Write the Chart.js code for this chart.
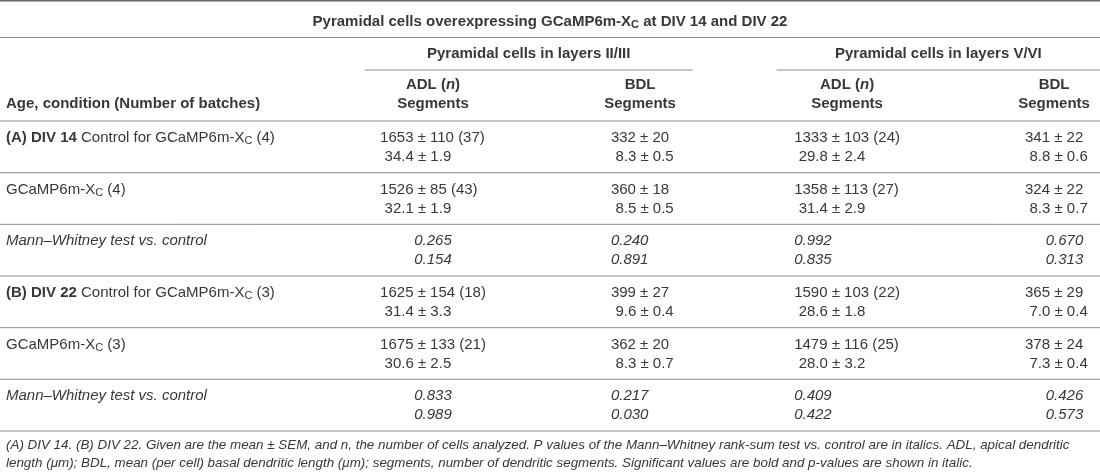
<!DOCTYPE html>
<html>
<head>
<meta charset="utf-8">
<title>Pyramidal cells overexpressing GCaMP6m-XC</title>
<script src="https://cdn.jsdelivr.net/npm/chart.js@4.4.1/dist/chart.umd.min.js"></script>
<style>
  html, body { margin: 0; padding: 0; background: #fff; }
  canvas { display: block; }
</style>
</head>
<body>
<canvas id="table" width="1100" height="474"></canvas>
<script>
// markup: **bold**, *italic*, _X = subscript letter
var title = '**Pyramidal cells overexpressing GCaMP6m-X_C at DIV 14 and DIV 22**';
var groupHeads = ['Pyramidal cells in layers II/III', 'Pyramidal cells in layers V/VI'];
var colHeads = ['ADL (*n*)', 'BDL', 'ADL (*n*)', 'BDL'];
var rowHead = 'Age, condition (Number of batches)';

var rowLabels = [
    '**(A) DIV 14** Control for GCaMP6m-X_C (4)',
    'GCaMP6m-X_C (4)',
    '*Mann–Whitney test vs. control*',
    '**(B) DIV 22** Control for GCaMP6m-X_C (3)',
    'GCaMP6m-X_C (3)',
    '*Mann–Whitney test vs. control*'
];

// layers II/III
var adl23 = ['1653 ± 110 (37)', '1526 ± 85 (43)', '0.265', '1625 ± 154 (18)', '1675 ± 133 (21)', '0.833'];
var adl23Seg = ['34.4 ± 1.9', '32.1 ± 1.9', '0.154', '31.4 ± 3.3', '30.6 ± 2.5', '0.989'];
var bdl23 = ['332 ± 20', '360 ± 18', '0.240', '399 ± 27', '362 ± 20', '0.217'];
var bdl23Seg = ['8.3 ± 0.5', '8.5 ± 0.5', '0.891', '9.6 ± 0.4', '8.3 ± 0.7', '0.030'];
// layers V/VI
var adl56 = ['1333 ± 103 (24)', '1358 ± 113 (27)', '0.992', '1590 ± 103 (22)', '1479 ± 116 (25)', '0.409'];
var adl56Seg = ['29.8 ± 2.4', '31.4 ± 2.9', '0.835', '28.6 ± 1.8', '28.0 ± 3.2', '0.422'];
var bdl56 = ['341 ± 22', '324 ± 22', '0.670', '365 ± 29', '378 ± 24', '0.426'];
var bdl56Seg = ['8.8 ± 0.6', '8.3 ± 0.7', '0.313', '7.0 ± 0.4', '7.3 ± 0.4', '0.573'];

var footnote = [
    '(A) DIV 14. (B) DIV 22. Given are the mean ± SEM, and n, the number of cells analyzed. P values of the Mann–Whitney rank-sum test vs. control are in italics. ADL, apical dendritic',
    'length (μm); BDL, mean (per cell) basal dendritic length (μm); segments, number of dendritic segments. Significant values are bold and p-values are shown in italic.'
];

var columns = [[adl23, adl23Seg], [bdl23, bdl23Seg], [adl56, adl56Seg], [bdl56, bdl56Seg]];

var FAMILY = '"Liberation Sans", Arial, Helvetica, sans-serif';
var SIZE = 15;
var TEXT = '#383838';
var RULE = '#8c8c8c';

function parseRuns(s, base) {
    var runs = [], re = /\*\*(.+?)\*\*|\*(.+?)\*|_(\w)/g, last = 0, m;
    function add(t, extra) {
        var r = Object.assign({}, base, extra || {});
        // nested markup inside bold segment
        if (extra && extra.b && /_|\*/.test(t)) {
            parseRuns(t, r).forEach(function (x) { runs.push(x); });
            return;
        }
        r.t = t; runs.push(r);
    }
    while ((m = re.exec(s))) {
        if (m.index > last) add(s.slice(last, m.index));
        if (m[1] !== undefined) add(m[1], { b: true });
        else if (m[2] !== undefined) add(m[2], { i: true });
        else add(m[3], { sub: true });
        last = re.lastIndex;
    }
    if (last < s.length) add(s.slice(last));
    return runs;
}

function runFont(r) {
    var size = r.size || SIZE;
    if (r.sub) size = Math.round(size * 0.72);
    return (r.i ? 'italic ' : '') + (r.b ? 'bold ' : '') + size + 'px ' + FAMILY;
}

function drawText(ctx, s, x, y, align, base) {
    var runs = parseRuns(s, base || {});
    var w = 0;
    runs.forEach(function (r) { ctx.font = runFont(r); r.w = ctx.measureText(r.t).width; w += r.w; });
    var cx = align === 'center' ? x - w / 2 : (align === 'right' ? x - w : x);
    runs.forEach(function (r) {
        ctx.font = runFont(r);
        ctx.fillText(r.t, cx, y + (r.sub ? 3 : 0));
        cx += r.w;
    });
    return w;
}

function textWidth(ctx, s, base) {
    var w = 0;
    parseRuns(s, base || {}).forEach(function (r) { ctx.font = runFont(r); w += ctx.measureText(r.t).width; });
    return w;
}

function rule(ctx, x1, x2, y, width, color) {
    ctx.beginPath();
    ctx.lineWidth = width || 1;
    ctx.strokeStyle = color || RULE;
    ctx.moveTo(x1, y);
    ctx.lineTo(x2, y);
    ctx.stroke();
}

// one point per body cell: x = column, y = row middle
var cells = [];
columns.forEach(function (col, c) {
    col[0].forEach(function (v, r) {
        cells.push({ x: c + 1, y: r + 0.5, lines: [v, col[1][r]], p: v.indexOf('±') < 0, col: c });
    });
});

var pAlign = ['center', 'left', 'left', 'right'];

var tablePlugin = {
    id: 'tablePlugin',
    beforeDraw: function (chart) {
        var ctx = chart.ctx;
        ctx.save();
        ctx.fillStyle = '#fff';
        ctx.fillRect(0, 0, chart.width, chart.height);
        ctx.restore();
    },
    afterDatasetsDraw: function (chart) {
        var ctx = chart.ctx, xs = chart.scales.x, ys = chart.scales.y;
        var W = chart.width, top = chart.chartArea.top;
        ctx.save();
        ctx.fillStyle = TEXT;
        ctx.textBaseline = 'middle';
        ctx.textAlign = 'left';

        // header
        rule(ctx, 0, W, 0.75, 1.5, '#666');
        drawText(ctx, title, W / 2, top - 99, 'center');
        rule(ctx, 0, W, top - 83);
        var spans = [[0.67, 2.23], [2.66, 4.2]];
        spans.forEach(function (sp, g) {
            var a = xs.getPixelForValue(sp[0]), b = Math.min(W, xs.getPixelForValue(sp[1]) + 5);
            drawText(ctx, groupHeads[g], (a + b) / 2, top - 66.5, 'center', { b: true });
            rule(ctx, a, b, top - 50.5);
        });
        colHeads.forEach(function (h, c) {
            var x = xs.getPixelForValue(c + 1);
            drawText(ctx, h, x, top - 35.5, 'center', { b: true });
            drawText(ctx, 'Segments', x, top - 16.5, 'center', { b: true });
        });
        drawText(ctx, rowHead, 6, top - 16.5, 'left', { b: true });

        // row rules and labels
        for (var r = 0; r <= rowLabels.length; r++) {
            rule(ctx, 0, W, ys.getPixelForValue(r) + 0.5, 1, RULE);
        }
        rowLabels.forEach(function (lab, r) {
            drawText(ctx, lab, 6, ys.getPixelForValue(r + 0.5) - 8.5, 'left');
        });

        // body cells placed by the scales
        var blockW = columns.map(function (col) {
            return Math.max.apply(null, col[0].filter(function (v) { return v.indexOf('±') >= 0; })
                .map(function (v) { return textWidth(ctx, v); }));
        });
        var meta = chart.getDatasetMeta(0);
        meta.data.forEach(function (pt, i) {
            var cell = cells[i];
            var y1 = pt.y - 8.5, y2 = pt.y + 10.5;
            var left = pt.x - blockW[cell.col] / 2;
            if (cell.p) {
                var al = pAlign[cell.col];
                var px = al === 'center' ? pt.x : (al === 'left' ? left : left + blockW[cell.col]);
                drawText(ctx, cell.lines[0], px, y1, al, { i: true });
                drawText(ctx, cell.lines[1], px, y2, al, { i: true });
            } else {
                drawText(ctx, cell.lines[0], left, y1, 'left');
                drawText(ctx, cell.lines[1], left + 4.5, y2, 'left');
            }
        });

        // footnote
        var bottom = ys.getPixelForValue(rowLabels.length);
        drawText(ctx, footnote[0], 6, bottom + 15, 'left', { i: true, size: 13.4 });
        drawText(ctx, footnote[1], 6, bottom + 33, 'left', { i: true, size: 13.4 });
        ctx.restore();
    }
};

var ctx = document.getElementById('table').getContext('2d');
var tableChart = new Chart(ctx, {
    type: 'scatter',
    data: {
        datasets: [{
            data: cells,
            pointRadius: 0,
            pointHoverRadius: 0,
            showLine: false
        }]
    },
    options: {
        responsive: false,
        animation: false,
        devicePixelRatio: 1,
        events: [],
        layout: {
            padding: { top: 120.5, bottom: 43.5, left: 329.5, right: 4.5 }
        },
        plugins: {
            legend: { display: false },
            tooltip: { enabled: false },
            title: { display: false }
        },
        scales: {
            x: { type: 'linear', min: 0.5, max: 4.2, display: false },
            y: { type: 'linear', min: 0, max: 6, reverse: true, display: false }
        }
    },
    plugins: [tablePlugin]
});
</script>
</body>
</html>
